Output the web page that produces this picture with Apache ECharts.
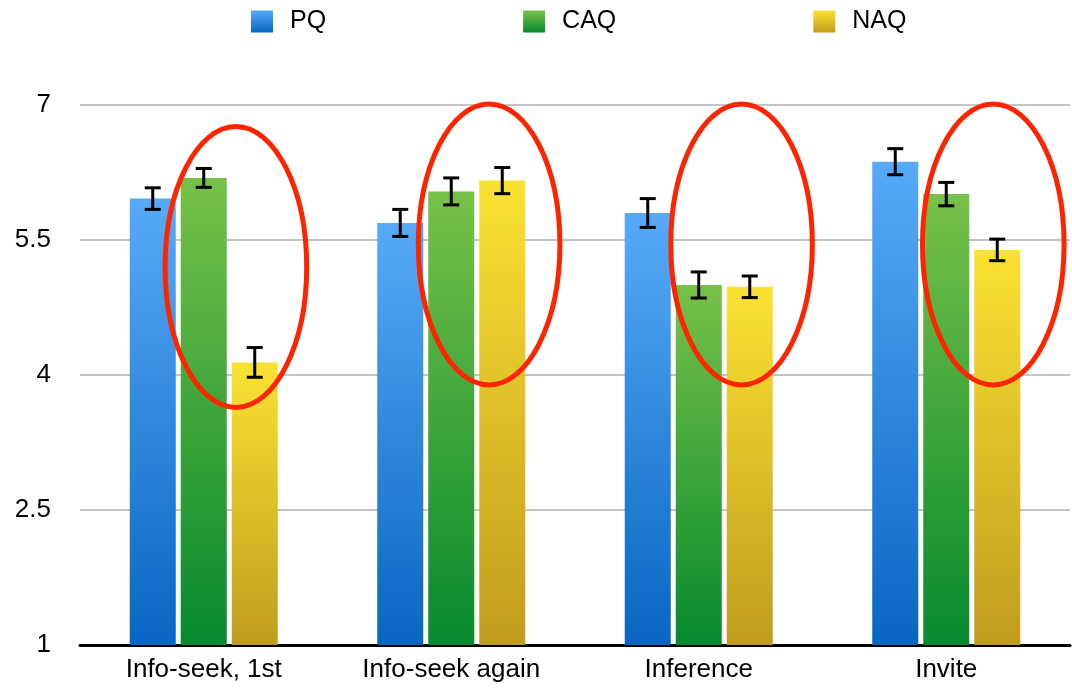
<!DOCTYPE html>
<html>
<head>
<meta charset="utf-8">
<script src="https://cdn.jsdelivr.net/npm/echarts@6/dist/echarts.min.js"></script>
<style>
  html, body { margin: 0; padding: 0; background: #fff; }
  #chart { width: 1072px; height: 688px; }
</style>
</head>
<body>
<div id="chart"></div>
<script>
// categories + values
const categories = ['Info-seek, 1st', 'Info-seek again', 'Inference', 'Invite'];
const seriesNames = ['PQ', 'CAQ', 'NAQ'];

const pqValues = [5.96, 5.69, 5.80, 6.37];
const caqValues = [6.19, 6.04, 5.00, 6.01];
const naqValues = [4.14, 6.16, 4.98, 5.39];

// +/- error per bar
const pqErrors = [0.12, 0.15, 0.16, 0.145];
const caqErrors = [0.105, 0.15, 0.145, 0.13];
const naqErrors = [0.165, 0.145, 0.12, 0.12];

// red ellipses drawn over CAQ + NAQ (top / bottom in axis units)
const ellipseTop = [6.76, 7.01, 7.01, 7.01];
const ellipseBottom = [3.64, 3.89, 3.89, 3.89];

const yTicks = [1, 2.5, 4, 5.5, 7];

const chart = echarts.init(document.getElementById('chart'));

const FONT = 'Liberation Sans, Arial, Helvetica, sans-serif';
const BAR_W = 46;
const BAR_GAP = 5;

const gradient = (top, bottom) =>
  new echarts.graphic.LinearGradient(0, 0, 0, 1, [
    { offset: 0, color: top },
    { offset: 1, color: bottom },
  ]);

const barColors = [
  gradient('#57aaf8', '#0866c2'),
  gradient('#78c148', '#068a2e'),
  gradient('#fae232', '#c19c1e'),
];

const values = [pqValues, caqValues, naqValues];
const errors = [pqErrors, caqErrors, naqErrors];

const barSeries = seriesNames.map((name, i) => ({
  name,
  type: 'bar',
  data: values[i],
  barWidth: BAR_W,
  barGap: (BAR_GAP / BAR_W) * 100 + '%',
  itemStyle: { color: barColors[i] },
  z: 2,
}));

// error bars, one custom series per bar series
const errorSeries = seriesNames.map((name, i) => ({
  type: 'custom',
  name: name + '-err',
  z: 5,
  data: values[i].map((v, k) => [k, v - errors[i][k], v + errors[i][k]]),
  renderItem: (params, api) => {
    const idx = api.value(0);
    const offset = (i - 1) * (BAR_W + BAR_GAP);
    const lo = api.coord([idx, api.value(1)]);
    const hi = api.coord([idx, api.value(2)]);
    const x = lo[0] + offset;
    const cap = 8;
    const style = { stroke: '#000', lineWidth: 3 };
    return {
      type: 'group',
      children: [
        { type: 'line', shape: { x1: x, y1: lo[1], x2: x, y2: hi[1] }, style },
        { type: 'line', shape: { x1: x - cap, y1: lo[1], x2: x + cap, y2: lo[1] }, style },
        { type: 'line', shape: { x1: x - cap, y1: hi[1], x2: x + cap, y2: hi[1] }, style },
      ],
    };
  },
}));

// ellipse horizontal position (share of the band) and radius
const ellipseShift = [0.13, 0.153, 0.173, 0.19];
const ellipseSeries = {
  type: 'custom',
  name: 'ellipse',
  z: 4,
  data: categories.map((c, k) => [k, ellipseTop[k], ellipseBottom[k]]),
  renderItem: (params, api) => {
    const idx = api.value(0);
    const band = api.size([1, 0])[0];
    const top = api.coord([idx, api.value(1)]);
    const bottom = api.coord([idx, api.value(2)]);
    return {
      type: 'ellipse',
      shape: {
        cx: top[0] + ellipseShift[idx] * band,
        cy: (top[1] + bottom[1]) / 2,
        rx: band * 0.286,
        ry: (bottom[1] - top[1]) / 2,
      },
      style: { fill: 'none', stroke: '#ff2400', lineWidth: 5 },
    };
  },
};

chart.setOption({
  animation: false,
  textStyle: { fontFamily: FONT },
  legend: {
    data: seriesNames,
    left: 246,
    top: 4,
    icon: 'rect',
    itemWidth: 22,
    itemHeight: 22,
    itemGap: 197,
    textStyle: { fontSize: 25, color: '#000', fontFamily: FONT, padding: [0, 0, 0, 12] },
  },
  grid: {
    left: 80,
    right: 2,
    top: 105,
    bottom: 43,
  },
  xAxis: {
    type: 'category',
    data: categories,
    axisTick: { show: false },
    axisLine: { lineStyle: { color: '#000', width: 3 } },
    axisLabel: { fontSize: 26, color: '#000', margin: 12, fontFamily: FONT },
  },
  yAxis: {
    type: 'value',
    min: yTicks[0],
    max: yTicks[yTicks.length - 1],
    interval: yTicks[1] - yTicks[0],
    axisLine: { show: false },
    axisTick: { show: false },
    axisLabel: { fontSize: 26, color: '#000', margin: 29, fontFamily: FONT },
    splitLine: { lineStyle: { color: '#c4c4c4', width: 2 } },
  },
  series: [...barSeries, ...errorSeries, ellipseSeries],
});
</script>
</body>
</html>
